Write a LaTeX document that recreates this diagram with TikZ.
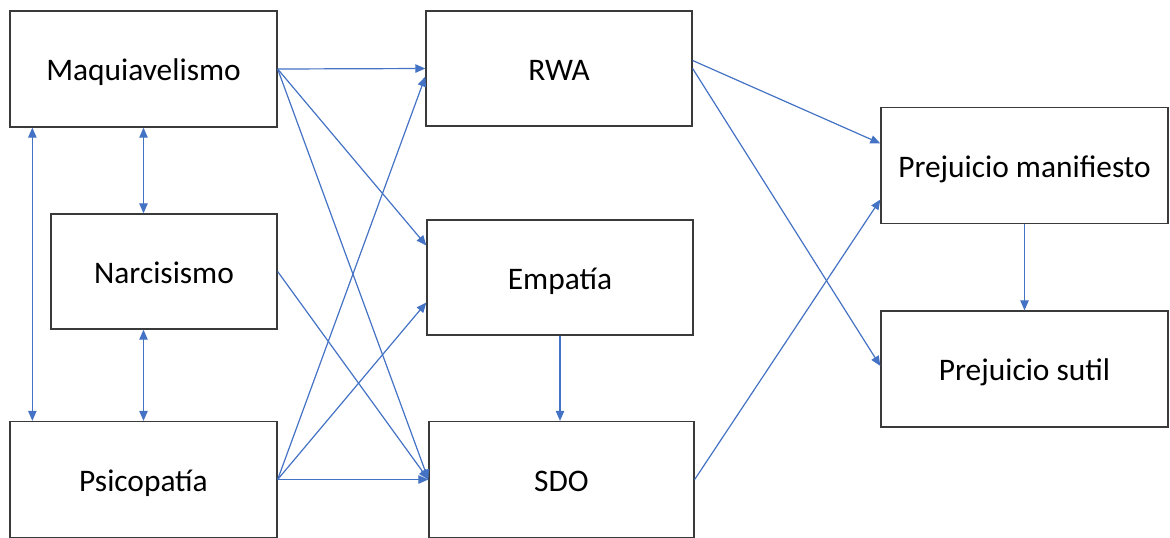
\documentclass[tikz,border=0pt]{standalone}
\usepackage{fontspec}
\setmainfont{Carlito}
\usetikzlibrary{arrows.meta}
\usetikzlibrary{calc}
\definecolor{linkblue}{HTML}{4472C4}
\definecolor{boxgray}{HTML}{3A3A3A}

\begin{document}
\begin{tikzpicture}[x=0.5pt, y=-0.5pt,
    box/.style={draw=boxgray, line width=0.65pt, rectangle, inner sep=0pt, text height=11.5pt, text depth=0pt, font=\fontsize{15.7}{18}\selectfont},
    link/.style={-{Triangle[length=5pt,width=4.2pt]}, draw=linkblue, line width=0.6pt},
    both/.style={{Triangle[length=5pt,width=4.2pt]}-{Triangle[length=5pt,width=4.2pt]}, draw=linkblue, line width=0.6pt}]
            \useasboundingbox (0,0) rectangle (1170,537);
            \node[box, minimum width=133.5pt, minimum height=58pt] (maq) at (143.5,69) {Maquiavelismo};
            \node[box, minimum width=113pt, minimum height=57.5pt] (nar) at (164,271.5) {Narcisismo};
            \node[box, minimum width=133.5pt, minimum height=58pt] (psi) at (143.5,479.5) {Psicopatía};
            \node[box, minimum width=133pt, minimum height=57.5pt] (rwa) at (559,68.5) {RWA};
            \node[box, minimum width=133pt, minimum height=57.5pt] (emp) at (560,277.5) {Empatía};
            \node[box, minimum width=132.5pt, minimum height=58pt] (sdo) at (561.5,479.5) {SDO};
            \node[box, minimum width=143.5pt, minimum height=58pt] (pm) at (1024.5,165.5) {Prejuicio manifiesto};
            \node[box, minimum width=143.5pt, minimum height=58pt] (ps) at (1024.5,369) {Prejuicio sutil};
            
            % rasgos oscuros entre si
            \draw[both] ($(maq.south west)+(23,0)$) -- ($(psi.north west)+(23,0)$);
            \draw[both] (maq.south) -- (maq.south |- nar.north);
            \draw[both] (psi.north) -- (psi.north |- nar.south);
            
            % hacia RWA, empatia y SDO
            \draw[link] (maq.east) -- (rwa.west);
            \draw[link] (maq.east) -- ($(emp.west)+(0,-32)$);
            \draw[link] (maq.east) -- (sdo.west);
            \draw[link] (nar.east) -- (sdo.west);
            \draw[link] (psi.east) -- ($(rwa.west)+(0,8)$);
            \draw[link] (psi.east) -- ($(emp.west)+(0,25)$);
            \draw[link] (psi.east) -- (sdo.west);
            \draw[link] (emp.south) -- (emp.south |- sdo.north);
            
            % hacia el prejuicio
            \draw[link] ($(rwa.east)+(0,-8)$) -- ($(pm.west)+(0,-22)$);
            \draw[link] (rwa.east) -- ($(ps.west)+(0,-3)$);
            \draw[link] (sdo.east) -- ($(pm.west)+(0,34)$);
            \draw[link] (pm.south) -- (ps.north);
        \end{tikzpicture}
\end{document}
